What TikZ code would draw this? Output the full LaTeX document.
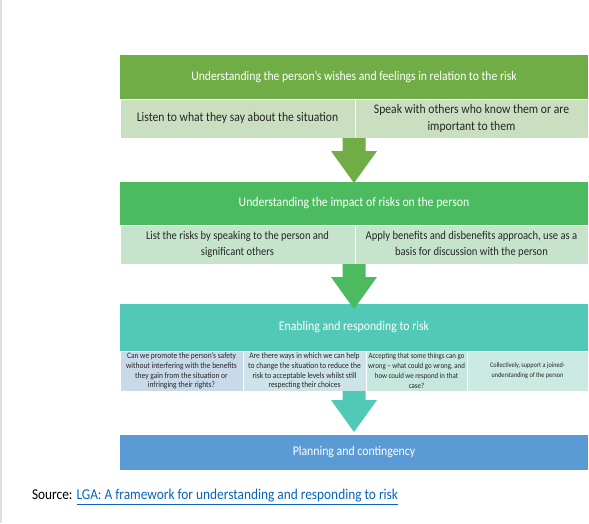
\documentclass[tikz,border=0pt]{standalone}
\usepackage{fontspec}
\setmainfont{Carlito}[FakeStretch=0.89]
\usetikzlibrary{positioning, calc}
\definecolor{HeadGreen}{HTML}{70AD47}
\definecolor{SubGreen}{HTML}{C9DFBF}
\definecolor{HeadLime}{HTML}{4CBB5F}
\definecolor{SubLime}{HTML}{C6E4CC}
\definecolor{HeadTeal}{HTML}{52C9B6}
\definecolor{SubTealA}{HTML}{C8DAEA}
\definecolor{SubTealB}{HTML}{CCE4E9}
\definecolor{SubTealC}{HTML}{C6E7DD}
\definecolor{SubTealD}{HTML}{CBEAE1}
\definecolor{HeadBlue}{HTML}{5B9BD5}
\definecolor{LinkBlue}{HTML}{0563C1}
\definecolor{TextGrey}{HTML}{262626}

\begin{document}
\begin{tikzpicture}[x=1pt, y=-1pt, inner sep=0pt, outer sep=0pt]
        \tikzstyle{header} = [rectangle, minimum width=468pt, text=white, align=center, font=\fontsize{13.25}{15}\selectfont]
        \tikzstyle{cell} = [rectangle, draw=white, line width=0.4pt, text=TextGrey, align=center]
        \tikzstyle{small} = [font=\fontsize{8.4}{9.8}\selectfont]

        \useasboundingbox (0,0) rectangle (589,523);
        \fill[gray!25] (0,0) rectangle (2,523);

        % Stages
        \node (hdr1) [header, fill=HeadGreen, minimum height=44pt, font=\fontsize{13.1}{15}\selectfont] at (354,77) {Understanding the person’s wishes and feelings in relation to the risk};
        \node (hdr2) [header, fill=HeadLime, minimum height=43pt] at (354,203.5) {Understanding the impact of risks on the person};
        \node (hdr3) [header, fill=HeadTeal, minimum height=47pt] at (354,327.5) {Enabling and responding to risk};
        \node (hdr4) [header, fill=HeadBlue, minimum height=35pt] at (354,452.5) {Planning and contingency};

        % Sub rows
        \node (sub1a) [cell, fill=SubGreen, minimum width=235pt, minimum height=39pt, below right=0pt and 0pt of hdr1.south west, font=\fontsize{13.1}{16.5}\selectfont] {Listen to what they say about the situation};
        \node (sub1b) [cell, fill=SubGreen, minimum width=233pt, minimum height=39pt, right=0pt of sub1a, font=\fontsize{13.1}{16.5}\selectfont] {Speak with others who know them or are\\important to them};
        \node (sub2a) [cell, fill=SubLime, minimum width=235pt, minimum height=39pt, below right=0pt and 0pt of hdr2.south west, font=\fontsize{11.8}{16}\selectfont] {List the risks by speaking to the person and\\significant others};
        \node (sub2b) [cell, fill=SubLime, minimum width=233pt, minimum height=39pt, right=0pt of sub2a, font=\fontsize{11.9}{16}\selectfont] {Apply benefits and disbenefits approach, use as a\\basis for discussion with the person};
        \node (sub3a) [cell, small, fill=SubTealA, minimum width=123pt, minimum height=40pt, below right=0pt and 0pt of hdr3.south west] {Can we promote the person’s safety\\without interfering with the benefits\\they gain from the situation or\\infringing their rights?};
        \node (sub3b) [cell, small, fill=SubTealB, minimum width=123pt, minimum height=40pt, right=0pt of sub3a] {Are there ways in which we can help\\to change the situation to reduce the\\risk to acceptable levels whilst still\\respecting their choices};
        \node (sub3c) [cell, fill=SubTealC, minimum width=101pt, minimum height=40pt, right=0pt of sub3b, font=\fontsize{7.75}{9.8}\selectfont] {Accepting that some things can go\\wrong – what could go wrong, and\\how could we respond in that\\case?};
        \node (sub3d) [cell, fill=SubTealD, minimum width=121pt, minimum height=40pt, right=0pt of sub3c, font=\fontsize{7}{9.8}\selectfont] {Collectively, support a joined-\\understanding of the person};

        % Block arrows
        \foreach \src/\dst/\col/\off in {sub1a/hdr2/HeadGreen/1, sub2a/hdr3/HeadLime/5, sub3b/hdr4/HeadTeal/-3} {
            \fill[\col] ($(\dst.north |- \src.south)+(-11.5,0)$) -- ($(\dst.north |- \src.south)+(11.5,0)$)
                -- ($(\dst.north)+(11.5,\off-32)$) -- ($(\dst.north)+(23,\off-32)$) -- ($(\dst.north)+(0,\off)$)
                -- ($(\dst.north)+(-23,\off-32)$) -- ($(\dst.north)+(-11.5,\off-32)$) -- cycle;
        }

        % Source
        \node (source) [anchor=west, font=\fontsize{15}{17}\selectfont] at (32,497) {Source: \textcolor{LinkBlue}{\underline{LGA: A framework for understanding and responding to risk}}};
    \end{tikzpicture}
\end{document}
